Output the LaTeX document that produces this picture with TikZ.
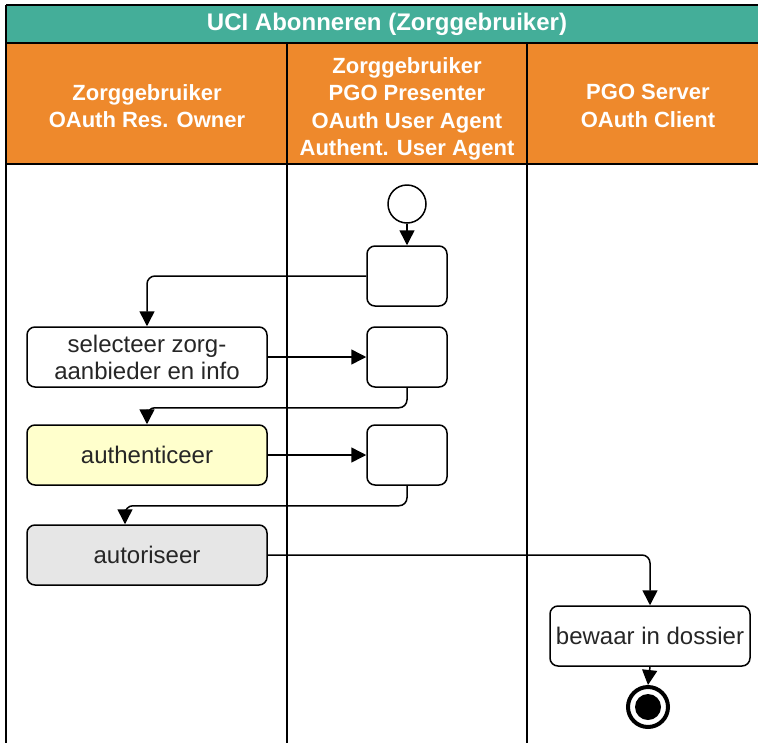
\documentclass[tikz,border=0pt]{standalone}
\usepackage{fontspec}
\setmainfont{Liberation Sans}
\usetikzlibrary{arrows.meta,calc}
\definecolor{tealhd}{RGB}{68,174,153}
\definecolor{orangehd}{RGB}{238,137,44}
\definecolor{yellowfill}{RGB}{255,255,204}
\definecolor{grayfill}{RGB}{230,230,230}
\begin{document}
\begin{tikzpicture}[x=1pt,y=-1pt,
  act/.style={draw=black, line width=1.5pt, rounded corners=8pt, fill=white,
    minimum width=240pt, minimum height=60pt, inner sep=0pt, align=center,
    font=\fontsize{24}{27}\selectfont, text=black!85},
  smallact/.style={act, minimum width=80pt},
  arr/.style={-{Triangle[length=15pt,width=15pt]}, line width=1.5pt, rounded corners=8pt},
  hdr/.style={text=white, font=\bfseries\fontsize{22}{27.5}\selectfont, align=center},
  lane/.style={line width=1.5pt}]
\useasboundingbox (0,0) rectangle (758,742);
\begin{scope}
  \clip (0,0) rectangle (758,742);
  \fill[tealhd] (6,5) rectangle (770,43);
  \fill[orangehd] (6,43) rectangle (770,164);
  \draw[lane] (6,5) -- (770,5);
  \draw[lane] (6,5) -- (6,760);
  \draw[lane] (6,43) -- (770,43);
  \draw[lane] (6,164) -- (770,164);
  \draw[lane] (287,43) -- (287,760);
  \draw[lane] (527,43) -- (527,760);
\end{scope}
\node[hdr, font=\bfseries\fontsize{24}{28}\selectfont] (title) at (387,24) {UCI Abonneren (Zorggebruiker)};
\node[hdr] (h1) at (147,106) {Zorggebruiker\\OAuth Res. Owner};
\node[hdr] (h2) at (407,109) {Zorggebruiker\\PGO Presenter\\OAuth User Agent\\Authent. User Agent};
\node[hdr] (h3) at (648,106) {PGO Server\\OAuth Client};

\node[circle, draw=black, line width=1.5pt, minimum size=38pt, inner sep=0pt, fill=white] (start) at (407,204) {};
\node[smallact] (box1) at (407,276) {};
\node[act] (sel) at (147,357) {selecteer zorg-\\aanbieder en info};
\node[smallact] (box2) at (407,357) {};
\node[act, fill=yellowfill] (auth) at (147,455) {authenticeer};
\node[smallact] (box3) at (407,455) {};
\node[act, fill=grayfill] (autor) at (147,555) {autoriseer};
\node[act, minimum width=200pt] (bewaar) at (650,636) {bewaar in dossier};
\node[circle, draw=black, line width=4pt, minimum size=40pt, inner sep=0pt, fill=white,
  path picture={\fill[black] (path picture bounding box.center) circle (13pt);}] (end) at (648,707) {};

\draw[arr] (start) -- (box1);
\draw[arr] (box1.west) -| (sel.north);
\draw[arr] (sel.east) -- (box2.west);
\draw[arr] (box2.south) -- ++(0,20) -| (auth.north);
\draw[arr] (auth.east) -- (box3.west);
\draw[arr] (box3.south) -- ++(0,20) -| ([xshift=-22pt]autor.north);
\draw[arr] (autor.east) -| (bewaar.north);
\draw[arr] (bewaar.south) -- (end.north);
\end{tikzpicture}
\end{document}
